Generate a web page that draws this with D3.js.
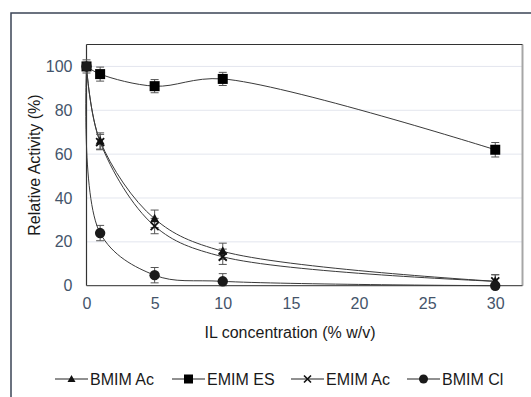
<!DOCTYPE html>
<html>
<head>
<meta charset="utf-8">
<script src="https://cdn.jsdelivr.net/npm/d3@7"></script>
<style>
  html, body { margin: 0; padding: 0; background: #fff; }
  svg { display: block; }
  text { font-family: "Liberation Sans", Arial, sans-serif; }
</style>
</head>
<body>
<script>
// ---- data ----
const concentrations = [0, 1, 5, 10, 30];
const seriesNames = ["BMIM Ac", "EMIM ES", "EMIM Ac", "BMIM Cl"];
const bmimAc = [100, 66, 30.5, 15.7, 2];
const emimEs = [100, 96.5, 91, 94.3, 62];
const emimAc = [100, 65.5, 27.2, 13.2, 2];
const bmimCl = [100, 24, 4.8, 2, 0];
const bmimAcErr = [0, 3.7, 4, 3.7, 3];
const emimEsErr = [3, 3.2, 3, 3, 3.3];
const emimAcErr = [0, 3.5, 3.5, 3.5, 3];
const bmimClErr = [0, 3.5, 3.5, 3.5, 0];
const xTicks = [0, 5, 10, 15, 20, 25, 30];
const yTicks = [0, 20, 40, 60, 80, 100];
const xTitle = "IL concentration (% w/v)";
const yTitle = "Relative Activity (%)";

const W = 531, H = 397;
const plot = { left: 86.5, right: 522.5, top: 44.5, bottom: 285.7 };

const svg = d3.select("body").append("svg").attr("width", W).attr("height", H);

// outer frame
svg.append("rect").attr("x", 11).attr("y", 13).attr("width", W).attr("height", H)
  .attr("fill", "none").attr("stroke", "#3b4456").attr("stroke-width", 1.5);

const x = d3.scaleLinear().domain([0, 32]).range([plot.left, plot.right]);
const y = d3.scaleLinear().domain([0, 110]).range([plot.bottom, plot.top]);

// gridlines
svg.append("g").selectAll("line").data(yTicks.filter(d => d > 0)).join("line")
  .attr("x1", plot.left).attr("x2", plot.right)
  .attr("y1", d => y(d)).attr("y2", d => y(d))
  .attr("stroke", "#e3e6ee").attr("stroke-width", 1);

// plot borders
svg.append("line").attr("x1", plot.right).attr("x2", plot.right)
  .attr("y1", plot.top).attr("y2", plot.bottom).attr("stroke", "#a6a6a6").attr("stroke-width", 2);
svg.append("line").attr("x1", plot.left).attr("x2", plot.right)
  .attr("y1", plot.top).attr("y2", plot.top).attr("stroke", "#333").attr("stroke-width", 1.2);
svg.append("line").attr("x1", plot.left).attr("x2", plot.left)
  .attr("y1", plot.top).attr("y2", plot.bottom).attr("stroke", "#333").attr("stroke-width", 1.2);
svg.append("line").attr("x1", plot.left).attr("x2", plot.right)
  .attr("y1", plot.bottom).attr("y2", plot.bottom).attr("stroke", "#555").attr("stroke-width", 1.2);

// axes tick labels via d3 axes
const tickColor = "#44546a";
const xAxis = svg.append("g").attr("transform", `translate(0,${plot.bottom})`)
  .call(d3.axisBottom(x).tickValues(xTicks).tickSize(0).tickPadding(12));
xAxis.select(".domain").remove();
xAxis.selectAll("text").attr("fill", tickColor).style("font-size", "16px")
  .style("font-family", "'Liberation Sans', Arial, sans-serif");

const yAxis = svg.append("g").attr("transform", `translate(${plot.left},0)`)
  .call(d3.axisLeft(y).tickValues(yTicks).tickSize(0).tickPadding(14));
yAxis.select(".domain").remove();
yAxis.selectAll("text").attr("fill", tickColor).style("font-size", "16px")
  .style("font-family", "'Liberation Sans', Arial, sans-serif");

// axis titles
svg.append("text").attr("x", 290).attr("y", 338).attr("text-anchor", "middle")
  .attr("fill", "#1a1a1a").style("font-size", "16px").text(xTitle);
svg.append("text").attr("transform", `translate(40,165) rotate(-90)`).attr("text-anchor", "middle")
  .attr("fill", "#1a1a1a").style("font-size", "16px").text(yTitle);

const series = [
  { name: seriesNames[0], vals: bmimAc, err: bmimAcErr, marker: "triangle" },
  { name: seriesNames[1], vals: emimEs, err: emimEsErr, marker: "square" },
  { name: seriesNames[2], vals: emimAc, err: emimAcErr, marker: "cross" },
  { name: seriesNames[3], vals: bmimCl, err: bmimClErr, marker: "circle" }
];

const line = d3.line().x(d => x(d[0])).y(d => y(d[1])).curve(d3.curveCatmullRom.alpha(0.5));

function drawMarker(g, type, cx, cy) {
  if (type === "square") {
    g.append("rect").attr("x", cx - 5).attr("y", cy - 5).attr("width", 10).attr("height", 10).attr("fill", "#000");
  } else if (type === "circle") {
    g.append("circle").attr("cx", cx).attr("cy", cy).attr("r", 5.2).attr("fill", "#1a1a1a");
  } else if (type === "triangle") {
    g.append("path").attr("d", `M${cx},${cy - 5}L${cx + 4.5},${cy + 3.5}L${cx - 4.5},${cy + 3.5}Z`).attr("fill", "#111");
  } else if (type === "cross") {
    g.append("path").attr("d", `M${cx - 4},${cy - 4}L${cx + 4},${cy + 4}M${cx + 4},${cy - 4}L${cx - 4},${cy + 4}`)
      .attr("stroke", "#111").attr("stroke-width", 1.8).attr("fill", "none");
  }
}

// lines
series.forEach(s => {
  const pts = concentrations.map((c, i) => [c, s.vals[i]]);
  svg.append("path").attr("d", line(pts)).attr("fill", "none").attr("stroke", "#3a3a3a").attr("stroke-width", 1);
});

// error bars
series.forEach(s => {
  const g = svg.append("g").attr("stroke", "#555").attr("stroke-width", 1);
  concentrations.forEach((c, i) => {
    const e = s.err[i];
    if (!e) return;
    const cx = x(c), y1 = y(s.vals[i] + e), y2 = y(Math.max(s.vals[i] - e, 0));
    g.append("line").attr("x1", cx).attr("x2", cx).attr("y1", y1).attr("y2", y2);
    g.append("line").attr("x1", cx - 4).attr("x2", cx + 4).attr("y1", y1).attr("y2", y1);
    g.append("line").attr("x1", cx - 4).attr("x2", cx + 4).attr("y1", y2).attr("y2", y2);
  });
});

// markers
series.forEach(s => {
  const g = svg.append("g");
  concentrations.forEach((c, i) => drawMarker(g, s.marker, x(c), y(s.vals[i])));
});

// legend
const legendX = [55, 172, 291, 407];
const legendY = 379;
series.forEach((s, i) => {
  const g = svg.append("g");
  const lx = legendX[i];
  g.append("line").attr("x1", lx).attr("x2", lx + 33).attr("y1", legendY).attr("y2", legendY)
    .attr("stroke", "#222").attr("stroke-width", 1.2);
  const mx = lx + 16.5;
  if (s.marker === "square") {
    g.append("rect").attr("x", mx - 4.5).attr("y", legendY - 4.5).attr("width", 9).attr("height", 9).attr("fill", "#000");
  } else if (s.marker === "circle") {
    g.append("circle").attr("cx", mx).attr("cy", legendY).attr("r", 4.5).attr("fill", "#1a1a1a");
  } else if (s.marker === "triangle") {
    g.append("path").attr("d", `M${mx},${legendY - 4}L${mx + 4},${legendY + 3}L${mx - 4},${legendY + 3}Z`).attr("fill", "#111");
  } else {
    g.append("path").attr("d", `M${mx - 3.5},${legendY - 3.5}L${mx + 3.5},${legendY + 3.5}M${mx + 3.5},${legendY - 3.5}L${mx - 3.5},${legendY + 3.5}`)
      .attr("stroke", "#111").attr("stroke-width", 1.6);
  }
  g.append("text").attr("x", lx + 35).attr("y", legendY + 5.5).attr("fill", "#1a1a1a")
    .style("font-size", "16px").text(s.name);
});
</script>
</body>
</html>
